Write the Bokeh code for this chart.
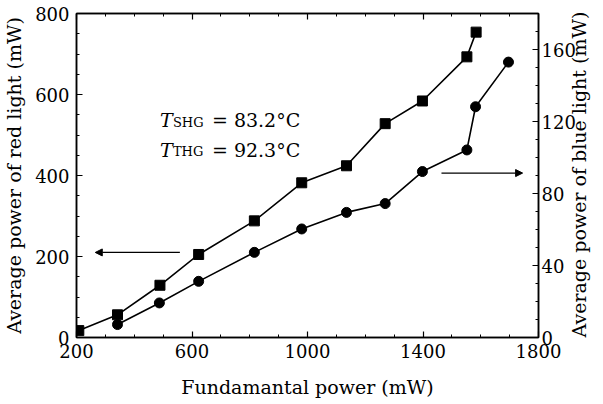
import math
from bokeh.plotting import figure
from bokeh.models import (Range1d, LinearAxis, FixedTicker, Arrow, NormalHead,
                          ColumnDataSource)
from bokeh.embed import file_html
from bokeh.resources import INLINE
from bokeh.core.properties import value

# Red light (left axis, squares)
red_x = [208, 342, 489, 623, 816, 980, 1135, 1269, 1398, 1552, 1584]
red_y = [17, 56, 129, 205, 288, 382, 424, 528, 584, 693, 754]
# Blue light (right axis, circles)
blue_x = [342, 487, 623, 816, 980, 1135, 1269, 1398, 1552, 1582, 1696]
blue_y = [7.2, 19.2, 31.2, 47.3, 60.3, 69.5, 74.4, 92.2, 104.2, 128.2, 153]

x_ticks = [200, 600, 1000, 1400, 1800]
x_minor = list(range(200, 1801, 100))
left_ticks = [0, 200, 400, 600, 800]
left_minor = list(range(0, 801, 50))
right_ticks = [0, 40, 80, 120, 160]
right_minor = list(range(0, 181, 10))

x_label = "Fundamantal power (mW)"
left_label = "Average power of red light (mW)"
right_label = "Average power of blue light (mW)"

# Arrow annotations (in left-axis data units): start -> end
arrow_left = (558, 210, 265, 210)
arrow_right = (1464, 406, 1745, 406)

# Temperature annotation
ann_x = [489, 489]
ann_y = [537, 463]
ann_sub = ["SHG", "THG"]
ann_val = ["= 83.2°C", "= 92.3°C"]

FONT = "DejaVu Serif"

p = figure(width=603, height=401, x_range=Range1d(200, 1800), y_range=Range1d(0, 800),
           output_backend="svg", toolbar_location=None,
           min_border_left=76, min_border_right=62, min_border_top=13, min_border_bottom=64)
p.extra_y_ranges = {"blue": Range1d(0, 180)}
p.grid.visible = False
p.outline_line_color = "black"
p.outline_line_width = 1.5
p.background_fill_color = "white"
p.border_fill_color = "white"


def style_axis(ax, ticks, minor, label=None, show_labels=True, standoff=6, lab_standoff=8):
    ax.ticker = FixedTicker(ticks=ticks, minor_ticks=minor)
    ax.major_tick_in = 6
    ax.major_tick_out = 0
    ax.minor_tick_in = 3
    ax.minor_tick_out = 0
    ax.axis_line_width = 1.5
    ax.major_tick_line_width = 1.2
    ax.minor_tick_line_width = 1.0
    ax.major_label_text_font = FONT
    ax.major_label_text_color = "black"
    if show_labels:
        ax.major_label_text_font_size = "18px"
        ax.major_label_standoff = standoff
    else:
        ax.major_label_text_font_size = "0px"
        ax.major_label_text_color = None
        ax.major_label_standoff = 0
    if label:
        ax.axis_label = label
        ax.axis_label_text_font = FONT
        ax.axis_label_text_font_size = "19px"
        ax.axis_label_text_font_style = "normal"
        ax.axis_label_text_color = "black"
        ax.axis_label_standoff = lab_standoff


style_axis(p.xaxis[0], x_ticks, x_minor, x_label, standoff=6, lab_standoff=15)
style_axis(p.yaxis[0], left_ticks, left_minor, left_label, standoff=7, lab_standoff=7)

right = LinearAxis(y_range_name="blue")
style_axis(right, right_ticks, right_minor, right_label, standoff=3, lab_standoff=0)
try:
    right.axis_label_orientation = math.pi / 2
    right.axis_label_align = "start"
except Exception:
    pass
p.add_layout(right, "right")

top = LinearAxis()
style_axis(top, x_ticks, x_minor, None, show_labels=False)
p.add_layout(top, "above")

src_r = ColumnDataSource(dict(x=red_x, y=red_y))
src_b = ColumnDataSource(dict(x=blue_x, y=blue_y))

p.line("x", "y", source=src_r, line_color="black", line_width=1.6)
p.scatter("x", "y", source=src_r, marker="square", size=10, fill_color="black", line_color="black")
p.line("x", "y", source=src_b, line_color="black", line_width=1.6, y_range_name="blue")
p.scatter("x", "y", source=src_b, marker="circle", size=10, fill_color="black", line_color="black",
          y_range_name="blue")

for (xs, ys, xe, ye) in (arrow_left, arrow_right):
    p.add_layout(Arrow(end=NormalHead(size=7, fill_color="black", line_color="black"),
                       x_start=xs, y_start=ys, x_end=xe, y_end=ye,
                       line_color="black", line_width=1.2))

src_a = ColumnDataSource(dict(x=ann_x, y=ann_y, sub=ann_sub, val=ann_val, t=["T", "T"]))
p.text("x", "y", text="t", source=src_a, text_font=value(FONT), text_font_size="19px",
       text_font_style="italic", text_baseline="alphabetic", text_color="black")
p.text("x", "y", text="sub", source=src_a, text_font=value(FONT), text_font_size="13px",
       text_baseline="alphabetic", text_color="black", x_offset=13, y_offset=2)
p.text("x", "y", text="val", source=src_a, text_font=value(FONT), text_font_size="19px",
       text_baseline="alphabetic", text_color="black", x_offset=52)

open("out.html", "w").write(file_html(p, INLINE))
